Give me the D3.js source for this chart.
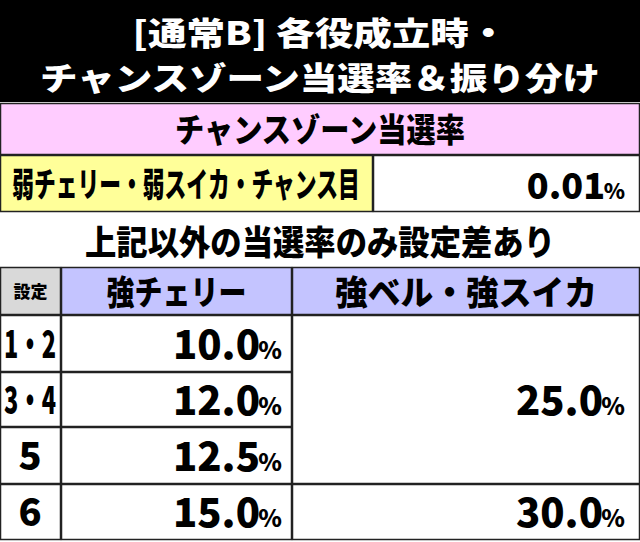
<!DOCTYPE html><html><head><meta charset="utf-8">
<script src="https://cdn.jsdelivr.net/npm/d3@7"></script>
<style>body{margin:0}svg{display:block}text{font-family:"Noto Sans CJK JP";font-weight:900}</style></head><body>
<script>
const titleLines=["[通常B] 各役成立時・","チャンスゾーン当選率＆振り分け"];
const czHeader="チャンスゾーン当選率";
const weakLabel="弱チェリー・弱スイカ・チャンス目";
const weakValue="0.01";
const note="上記以外の当選率のみ設定差あり";
const colHeaders=["設定","強チェリー","強ベル・強スイカ"];
const settings=["1・2","3・4","5","6"];
const strongCherry=["10.0","12.0","12.5","15.0"];
const strongBellRows=[{rows:[0,2],v:"25.0"},{rows:[3,3],v:"30.0"}];

const svg=d3.select("body").append("svg").attr("width",640).attr("height",542);
svg.append("rect").attr("width",640).attr("height",542).attr("fill","#fff");
svg.append("rect").attr("width",640).attr("height",102).attr("fill","#000");
titleLines.forEach((t,i)=>svg.append("text").attr("x",320).attr("y",[45,90][i]).attr("text-anchor","middle")
 .attr("fill","#fff").attr("font-size",32).attr("textLength",[375,560][i]).attr("lengthAdjust","spacingAndGlyphs").text(t));
function cell(x,y,w,h,fill){svg.append("rect").attr("x",x+0.5).attr("y",y+0.5).attr("width",w-1).attr("height",h-1).attr("fill",fill).attr("stroke","#222").attr("stroke-width",1.5);}
function txt(x,y,s,size,anchor,len){const t=svg.append("text").attr("x",x).attr("y",y).attr("font-size",size).attr("text-anchor",anchor||"middle").text(s);if(len)t.attr("textLength",len).attr("lengthAdjust","spacingAndGlyphs");return t;}
function pct(x,y,v,size){
 svg.append("text").attr("x",x).attr("y",y).attr("text-anchor","end").attr("font-size",size*0.6).attr("font-weight",700).text("%");
 svg.append("text").attr("x",x-size*0.55).attr("y",y).attr("text-anchor","end").attr("font-size",size).text(v);}
cell(0,103,640,52,"#ffccff");
txt(320,142,czHeader,33,"middle",290);
cell(0,155,373,57,"#ffff99");
svg.append("text").attr("transform","translate(186,197) scale(0.64,1)").attr("text-anchor","middle").attr("font-size",34).text(weakLabel);
cell(373,155,267,57,"#fff");
pct(625,199,weakValue,36);
txt(320,255,note,34,"middle",470);
const x=d3.scaleOrdinal().domain([0,1,2]).range([0,61,292]);
const wcol=[61,231,348];
const colFill=["#d9d9d9","#c4c4ff","#c4c4ff"];
const hy=267,hh=48;
colHeaders.forEach((h,i)=>{cell(x(i),hy,wcol[i],hh,colFill[i]);
 txt(x(i)+wcol[i]/2,hy+(i?38:31),h,i?34:17,"middle",i?[0,140,262][i]:34);});
const rowY=d3.scaleOrdinal().domain([0,1,2,3,4]).range([315,372,427,484,540]);
settings.forEach((s,i)=>{const y0=rowY(i),y1=rowY(i+1);
 cell(0,y0,61,y1-y0,"#fff");cell(61,y0,231,y1-y0,"#fff");
 txt(30,(y0+y1)/2+14,s,38,"middle",s.length>1?52:null);
 pct(282,(y0+y1)/2+15,strongCherry[i],40);});
strongBellRows.forEach(d=>{const y0=rowY(d.rows[0]),y1=rowY(d.rows[1]+1);
 cell(292,y0,348,y1-y0,"#fff");pct(625,(y0+y1)/2+15,d.v,40);});
</script></body></html>
